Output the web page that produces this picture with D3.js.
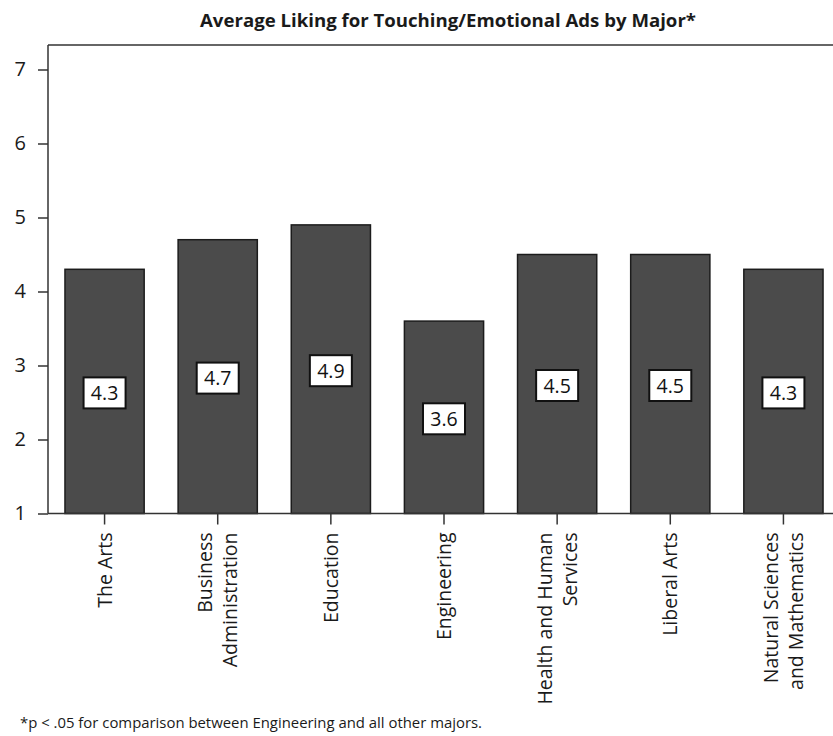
<!DOCTYPE html>
<html lang="en">
<head>
<meta charset="utf-8">
<script type="text/javascript" src="https://cdnjs.cloudflare.com/ajax/libs/d3/7.8.5/d3.min.js"></script>
<style>
    body { margin: 0; background: #fff; }
    svg { display: block; font-family: "Open Sans", "DejaVu Sans", sans-serif; }
</style>
</head>
<body>
<div id="container"></div>
<script type="text/javascript">
    // data
    var majors = [
        ["The Arts"],
        ["Business", "Administration"],
        ["Education"],
        ["Engineering"],
        ["Health and Human", "Services"],
        ["Liberal Arts"],
        ["Natural Sciences", "and Mathematics"]
    ];
    var liking = [4.3, 4.7, 4.9, 3.6, 4.5, 4.5, 4.3];
    var yTicks = [1, 2, 3, 4, 5, 6, 7];

    var titleText = "Average Liking for Touching/Emotional Ads by Major*";
    var noteText = "*p < .05 for comparison between Engineering and all other majors.";

    var w = 833;
    var h = 736;
    // (window.top is read-only, so plot edges get their own names)
    var plotLeft = 48, plotRight = 840, plotTop = 45, plotBottom = 513.5;

    var svg = d3.select("#container")
                .append("svg")
                .attr("width", w)
                .attr("height", h);

    var xscale = d3.scaleBand()
                   .domain(d3.range(majors.length))
                   .range([plotLeft, plotRight])
                   .paddingInner(0.3)
                   .paddingOuter(0.15);

    var yscale = d3.scaleLinear()
                   .domain([1, 7])
                   .range([plotBottom, plotBottom - 6 * 74]);

    // title
    svg.append("text")
       .attr("x", 448)
       .attr("y", 27)
       .attr("text-anchor", "middle")
       .attr("font-weight", "bold")
       .attr("font-size", 17.5)
       .attr("textLength", 496)
       .attr("lengthAdjust", "spacingAndGlyphs")
       .attr("fill", "#1a1a1a")
       .text(titleText);

    // top frame line
    svg.append("line")
       .attr("x1", plotLeft).attr("x2", w)
       .attr("y1", plotTop).attr("y2", plotTop)
       .attr("stroke", "#333").attr("stroke-width", 1.5);

    // bars
    svg.selectAll("rect.bar")
       .data(liking)
       .enter()
       .append("rect")
       .attr("class", "bar")
       .attr("x", function(d, i) { return xscale(i); })
       .attr("y", function(d) { return yscale(d); })
       .attr("width", xscale.bandwidth())
       .attr("height", function(d) { return yscale(1) - yscale(d); })
       .attr("fill", "#4b4b4b")
       .attr("stroke", "#1c1c1c")
       .attr("stroke-width", 1.5);

    // value boxes in the middle of each bar
    var labels = svg.selectAll("g.val")
                    .data(liking)
                    .enter()
                    .append("g")
                    .attr("class", "val")
                    .attr("transform", function(d, i) {
                        var cx = xscale(i) + xscale.bandwidth() / 2;
                        var cy = yscale((1 + d) / 2) + 1.5;
                        return "translate(" + cx + "," + cy + ")";
                    });

    labels.append("rect")
          .attr("x", -21).attr("y", -15.5)
          .attr("width", 42).attr("height", 31)
          .attr("fill", "#fff")
          .attr("stroke", "#111")
          .attr("stroke-width", 2);

    labels.append("text")
          .attr("text-anchor", "middle")
          .attr("dy", "0.36em")
          .attr("font-size", 19.5)
          .attr("fill", "#111")
          .text(function(d) { return d.toFixed(1); });

    // y axis
    var yAxis = svg.append("g")
                   .attr("transform", "translate(" + plotLeft + ",0)")
                   .call(d3.axisLeft(yscale).tickValues(yTicks).tickSize(10).tickPadding(12).tickFormat(d3.format("d")));
    yAxis.select(".domain").attr("d", "M0," + plotTop + "V" + plotBottom).attr("stroke", "#333").attr("stroke-width", 1.5);
    yAxis.selectAll(".tick line").attr("stroke", "#333").attr("stroke-width", 1.5);
    yAxis.selectAll(".tick text").attr("font-size", 20).attr("fill", "#1a1a1a")
         .attr("font-family", "\"Open Sans\", sans-serif");

    // x axis
    var xAxis = svg.append("g")
                   .attr("transform", "translate(0," + plotBottom + ")")
                   .call(d3.axisBottom(xscale).tickSize(11).tickFormat(""));
    xAxis.select(".domain").attr("d", "M" + plotLeft + ",0H" + w).attr("stroke", "#333").attr("stroke-width", 1.5);
    xAxis.selectAll(".tick line").attr("stroke", "#333").attr("stroke-width", 1.5);

    // category labels, rotated
    var cat = svg.selectAll("text.cat")
                 .data(majors)
                 .enter()
                 .append("text")
                 .attr("class", "cat")
                 .attr("text-anchor", "end")
                 .attr("font-size", 19.5)
                 .attr("fill", "#1a1a1a")
                 .attr("transform", function(d, i) {
                     var cx = xscale(i) + xscale.bandwidth() / 2;
                     var shift = -(d.length - 1) * 12.5 + 7;
                     return "translate(" + (cx + shift) + "," + (plotBottom + 19) + ") rotate(-90)";
                 });

    cat.selectAll("tspan")
       .data(function(d) { return d; })
       .enter()
       .append("tspan")
       .attr("x", 0)
       .attr("dy", function(d, j) { return j === 0 ? 0 : 25; })
       .text(function(d) { return d; });

    // footnote
    svg.append("text")
       .attr("x", 20)
       .attr("y", 728)
       .attr("font-size", 14)
       .attr("fill", "#1a1a1a")
       .attr("textLength", 462)
       .attr("lengthAdjust", "spacingAndGlyphs")
       .text(noteText);
</script>
</body>
</html>
